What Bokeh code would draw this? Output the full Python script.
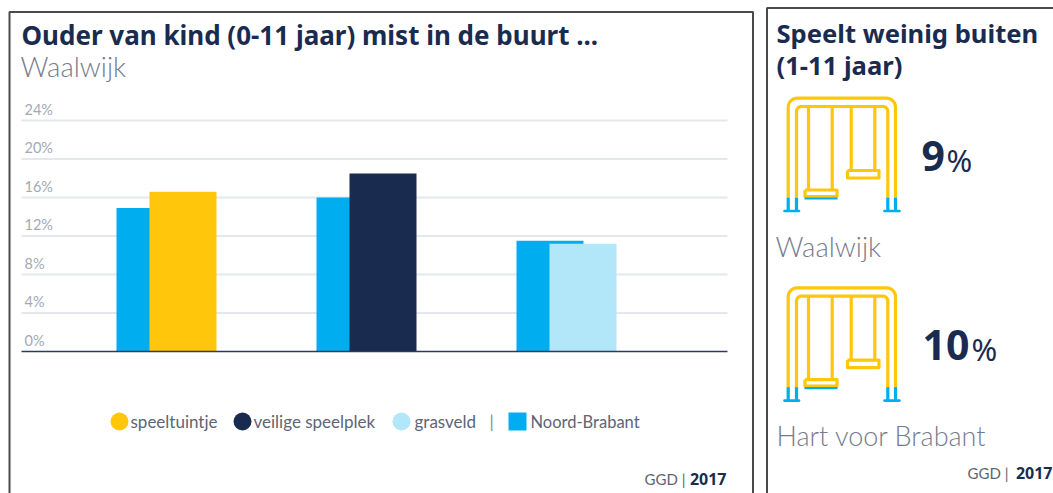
import numpy as np
from bokeh.core.properties import value
from bokeh.embed import file_html
from bokeh.models import Range1d
from bokeh.plotting import figure
from bokeh.resources import INLINE

CATEGORIES = ["speeltuintje", "veilige speelplek", "grasveld"]
WAALWIJK = [16.6, 18.5, 11.2]
NOORD_BRABANT = [14.9, 16.0, 11.5]
TICKS = [0, 4, 8, 12, 16, 20, 24]
TICK_LABELS = ["0%", "4%", "8%", "12%", "16%", "20%", "24%"]

YELLOW, NAVY, LIGHT, BLUE = "#ffc60b", "#1a2b50", "#b2e7fa", "#00aeef"
GREY = "#757c8b"
TICK_GREY = "#a3a9b3"
BOLD = "Noto Sans"
LIGHTF = "Lato"
THIN = "Lato Light"

W, H = 1053, 493
PX_PER_UNIT = 9.625
PX_PER_GROUP = 200.0
X0 = 166.0
Y0 = 351.0
x_range = Range1d(-X0 / PX_PER_GROUP, (W - X0) / PX_PER_GROUP)
y_range = Range1d((Y0 - H) / PX_PER_UNIT, Y0 / PX_PER_UNIT)

p = figure(width=W, height=H, output_backend="svg", toolbar_location=None,
           x_range=x_range, y_range=y_range,
           x_axis_location=None, y_axis_location=None,
           min_border=0, outline_line_color=None, background_fill_color="white")
p.grid.visible = False
p.extra_x_ranges["px"] = Range1d(0, W)
p.extra_y_ranges["px"] = Range1d(H, 0)
PX = dict(x_range_name="px", y_range_name="px")

gx0, gx1 = (21 - X0) / PX_PER_GROUP, (727 - X0) / PX_PER_GROUP
p.segment(x0=[gx0] * 6, x1=[gx1] * 6, y0=TICKS[1:], y1=TICKS[1:], line_color="#e4e7ee", line_width=2)

# y tick labels sit just above their gridlines, inside the plot area
p.text(x=[(24 - X0) / PX_PER_GROUP] * len(TICKS), y=TICKS, text=TICK_LABELS,
       text_font=value(LIGHTF), text_font_size="14.5px", text_color=TICK_GREY,
       text_align="left", text_baseline="bottom", y_offset=-3)

xs = np.arange(len(CATEGORIES))
BW = 67 / PX_PER_GROUP
OFF = 16.5 / PX_PER_GROUP
p.vbar(x=xs - OFF, top=NOORD_BRABANT, bottom=0, width=BW, fill_color=BLUE, line_color=None)
p.vbar(x=xs + OFF, top=WAALWIJK, bottom=0, width=BW,
       fill_color=[YELLOW, NAVY, LIGHT], line_color=None)
p.segment(x0=[gx0], x1=[gx1], y0=[0], y1=[0], line_color="#2b3a5e", line_width=1.5)


def txt(x, y, s, size, color, font=LIGHTF, style="normal", align="left"):
    p.text(x=[x], y=[y], text=[s], text_font=value(font), text_font_size=f"{size}px",
           text_font_style=style, text_color=color, text_align=align,
           text_baseline="middle", **PX)


# legend
LEG = "#5c6577"
for cx, c, tx, label in zip((119, 242, 401), (YELLOW, NAVY, LIGHT), (130, 253, 414), CATEGORIES):
    p.scatter(x=[cx], y=[421], marker="circle", size=18, fill_color=c, line_color=None, **PX)
    txt(tx, 421, label, 17, LEG)
p.scatter(x=[517], y=[421], marker="square", size=18, fill_color=BLUE, line_color=None, **PX)
txt(530, 421, "Noord-Brabant", 16.5, LEG)
txt(489, 421, "|", 17, "#7f8a9c")

txt(21, 34.5, "Ouder van kind (0-11 jaar) mist in de buurt ...", 26, NAVY, BOLD, "bold")
txt(20, 65.5, "Waalwijk", 27.5, GREY, THIN)
txt(685, 478, "GGD |", 15, LEG, align="right")
txt(726, 478, "2017", 16, NAVY, BOLD, "bold", "right")

txt(776, 32.5, "Speelt weinig buiten", 25.6, NAVY, BOLD, "bold")
txt(776, 64.5, "(1-11 jaar)", 25.6, NAVY, BOLD, "bold")
txt(775, 245.5, "Waalwijk", 27.5, GREY, THIN)
txt(776, 434.5, "Hart voor Brabant", 27, GREY, THIN)
txt(921, 155.5, "9", 41, NAVY, BOLD, "bold")
txt(946, 159, "%", 31, NAVY, BOLD)
txt(922, 344.5, "10", 41, NAVY, BOLD, "bold")
txt(971, 348, "%", 31, NAVY, BOLD)
txt(1008, 472.5, "GGD |", 15, LEG, align="right")
txt(1052, 472.5, "2017", 16, NAVY, BOLD, "bold", "right")

# panel frames (open at the bottom, as in the reference)
FRAME = "#4a4a4a"
p.line(x=[9, 9, 752.5, 752.5], y=[493, 11.5, 11.5, 493], line_color=FRAME, line_width=2, **PX)
p.line(x=[766.5, 766.5, 1053], y=[493, 7.5, 7.5], line_color=FRAME, line_width=2, **PX)


def arch(xl, xr, ytop, ybot, r):
    t = np.linspace(0, np.pi / 2, 10)
    ax = np.concatenate([[xl], xl + r - r * np.cos(t), xr - r + r * np.sin(t), [xr]])
    ay = np.concatenate([[ybot], ytop + r - r * np.sin(t), ytop + r - r * np.cos(t), [ybot]])
    return ax, ay


def swing(dy):
    lw = 3.2
    for (xl, xr, yt) in ((787.7, 895, 97.7), (796, 887.3, 106)):
        ax, ay = arch(xl, xr, yt + dy, 197 + dy, 9 if xl < 790 else 5)
        p.line(x=ax, y=ay, line_color=YELLOW, line_width=lw, **PX)
    for x, yb in ((808, 189), (831.7, 189), (850.7, 170), (874.3, 170)):
        p.line(x=[x, x], y=[106 + dy, yb + dy], line_color=YELLOW, line_width=lw, **PX)
    for x0, x1, y0, y1 in ((804.5, 836.5, 189.5, 196), (847, 878.5, 170, 177.5)):
        p.line(x=[x0, x1, x1, x0, x0], y=[y0 + dy, y0 + dy, y1 + dy, y1 + dy, y0 + dy],
               line_color=YELLOW, line_width=lw, line_join="round", **PX)
    p.line(x=[804, 837], y=[198 + dy, 198 + dy], line_color=BLUE, line_width=2.2, **PX)
    for x in (787.7, 796, 887.3, 895):
        p.line(x=[x, x], y=[197 + dy, 210 + dy], line_color=BLUE, line_width=lw, **PX)
    for x0, x1 in ((784, 798.5), (884, 899)):
        p.line(x=[x0, x1], y=[210.5 + dy, 210.5 + dy], line_color=BLUE, line_width=2.6, line_cap="round", **PX)


swing(0)
swing(189.6)

open("out.html", "w").write(file_html(p, INLINE))
